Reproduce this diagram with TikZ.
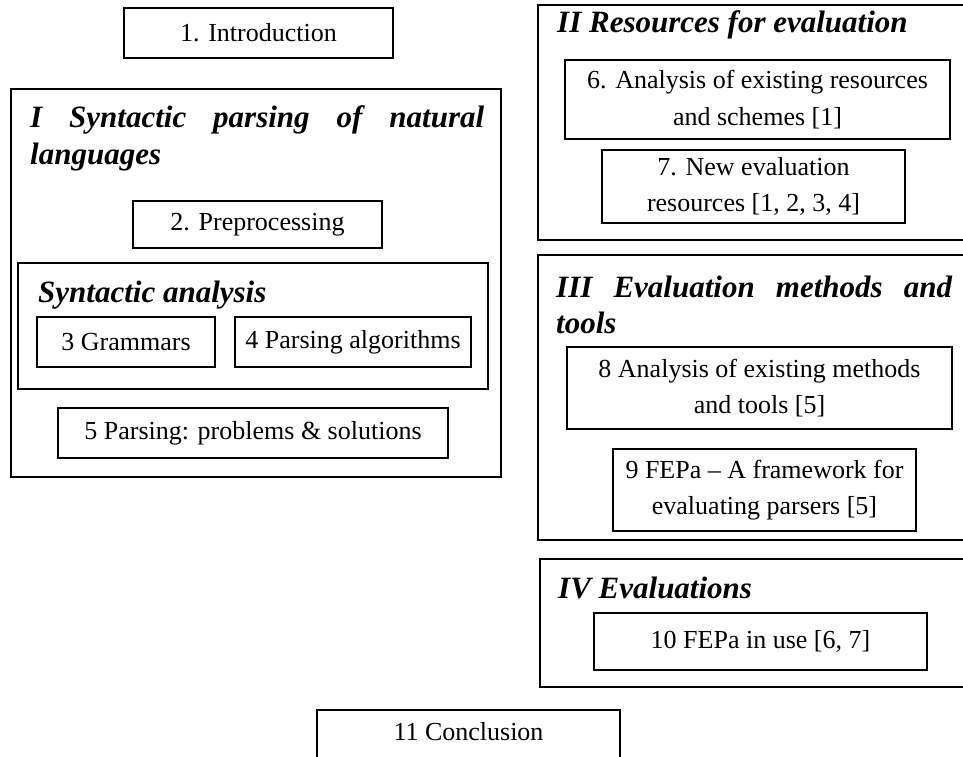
\documentclass[tikz,border=0pt]{standalone}
\usepackage{fontspec}
\setmainfont{Liberation Serif}
\newcommand{\bodyfont}{\fontsize{26}{36.5}\selectfont}
\newcommand{\partfont}{\fontsize{31}{36}\selectfont\bfseries\itshape}
\begin{document}
\begin{tikzpicture}[x=1pt,y=-1pt,
  partbox/.style={draw, line width=2.4pt, inner sep=0pt, minimum width=#1},
  secbox/.style={draw, line width=1.8pt, inner sep=0pt, align=center, font=\bodyfont},
  parttitle/.style={anchor=base west, inner sep=0pt, font=\partfont}]
\useasboundingbox (0,0) rectangle (963,757);
\clip (0,0) rectangle (963,757);

% Opening chapter
\node[secbox, minimum width=269pt, minimum height=50pt] (intro) at (258.5,33) {1. Introduction};

% Part I
\node[partbox=490pt, minimum height=388pt] (partI) at (256,283) {};
\node[parttitle] (titleIa) at (30,128) {\makebox[454pt][s]{I Syntactic parsing of natural}};
\node[parttitle] (titleIb) at (30,164) {languages};
\node[secbox, minimum width=249pt, minimum height=47pt] (prep) at (257.5,224.5) {2. Preprocessing};
\node[draw, line width=1.8pt, inner sep=0pt, minimum width=470pt, minimum height=126pt] (synan) at (253,326) {};
\node[parttitle] (synTitle) at (38,302) {Syntactic analysis};
\node[secbox, minimum width=178pt, minimum height=50pt] (gram) at (126,342) {3 Grammars};
\node[secbox, minimum width=236pt, minimum height=50pt] (algo) at (353,342) {4 Parsing algorithms};
\node[secbox, minimum width=390pt, minimum height=50pt] (probs) at (253,433) {5 Parsing: problems \& solutions};

% Part II
\node[partbox=452pt, minimum height=235pt] (partII) at (764,122.5) {};
\node[parttitle] (titleII) at (557,33) {II Resources for evaluation};
\node[secbox, minimum width=385pt, minimum height=79pt] (res6) at (757.5,99.5) {6. Analysis of existing resources\\and schemes [1]};
\node[secbox, minimum width=303pt, minimum height=73pt] (res7) at (753.5,186.5) {7. New evaluation\\resources [1, 2, 3, 4]};

% Part III
\node[partbox=452pt, minimum height=285pt] (partIII) at (764,397.5) {};
\node[parttitle] (titleIIIa) at (556,297) {\makebox[396pt][s]{III Evaluation methods and}};
\node[parttitle] (titleIIIb) at (556,333) {tools};
\node[secbox, minimum width=385pt, minimum height=82pt] (meth8) at (759.5,388) {8 Analysis of existing methods\\and tools [5]};
\node[secbox, minimum width=303pt, minimum height=82pt] (fepa9) at (764.5,490) {9 FEPa -- A framework for\\evaluating parsers [5]};

% Part IV
\node[partbox=450pt, minimum height=128pt] (partIV) at (765,623) {};
\node[parttitle] (titleIV) at (558,598) {IV Evaluations};
\node[secbox, minimum width=333pt, minimum height=57pt] (use10) at (760.5,641.5) {10 FEPa in use [6, 7]};

% Closing chapter
\node[secbox, minimum width=303pt, text height=31pt, text depth=50pt, anchor=north] (concl) at (468.5,709) {11 Conclusion};
\end{tikzpicture}
\end{document}
